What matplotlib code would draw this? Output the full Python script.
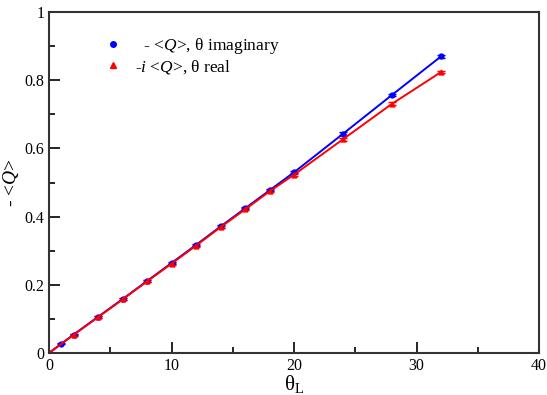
import matplotlib
matplotlib.use("Agg")
import matplotlib.pyplot as plt
from matplotlib.lines import Line2D
import numpy as np

plt.rcParams['font.family'] = 'Liberation Serif'
plt.rcParams['mathtext.fontset'] = 'custom'
plt.rcParams['mathtext.rm'] = 'Liberation Serif'
plt.rcParams['mathtext.it'] = 'Liberation Serif:italic'

# theta imaginary (blue)
theta_imag = [0, 1, 2, 4, 6, 8, 10, 12, 14, 16, 18, 20, 24, 28, 32]
q_imag = [0.0, 0.027, 0.054, 0.106, 0.158, 0.211, 0.264, 0.317, 0.371, 0.424, 0.477, 0.530, 0.643, 0.757, 0.870]
err_imag = [0.001, 0.002, 0.002, 0.002, 0.003, 0.003, 0.003, 0.003, 0.003, 0.003, 0.003, 0.003, 0.004, 0.004, 0.004]

# theta real (red)
theta_real = [0, 2, 4, 6, 8, 10, 12, 14, 16, 18, 20, 24, 28, 32]
q_real = [0.0, 0.053, 0.105, 0.157, 0.210, 0.262, 0.315, 0.369, 0.421, 0.474, 0.523, 0.627, 0.731, 0.824]
err_real = [0.001, 0.003, 0.003, 0.003, 0.003, 0.003, 0.003, 0.003, 0.003, 0.003, 0.003, 0.004, 0.004, 0.004]

labels = [r'  - <$Q$>, θ imaginary', r'-$i$ <$Q$>, θ real']

fig = plt.figure(figsize=(5.47, 3.95), dpi=100)
ax = fig.add_axes([0.0896, 0.1063, 0.896, 0.8633])

ax.errorbar(theta_imag, q_imag, yerr=err_imag, color='blue', marker='o', ms=3.5,
            lw=1.4, capsize=3, elinewidth=1)
ax.errorbar(theta_real, q_real, yerr=err_real, color='red', marker='^', ms=3.5,
            lw=1.4, capsize=3, elinewidth=1)

ax.set_xlim(0, 40)
ax.set_ylim(0, 1)
ax.set_xticks([0, 10, 20, 30, 40])
ax.set_xticks([5, 15, 25, 35], minor=True)
ax.set_yticks([0, 0.2, 0.4, 0.6, 0.8, 1])
ax.set_yticklabels(['0', '0.2', '0.4', '0.6', '0.8', '1'])
ax.set_yticks([0.1, 0.3, 0.5, 0.7, 0.9], minor=True)
ax.tick_params(which='both', direction='in', top=False, right=False, labelsize=11.5, width=1.2)
ax.tick_params(which='major', length=8)
ax.tick_params(which='minor', length=4)
for s in ax.spines.values():
    s.set_linewidth(1.5)
    s.set_color('#333333')

ax.set_xlabel(r'θ$_\mathrm{L}$', fontsize=15)
ax.xaxis.set_label_coords(0.5, -0.058)
ax.set_ylabel(r'- <$Q$>', fontsize=14)
ax.yaxis.set_label_coords(-0.058, 0.5)

handles = [Line2D([], [], color='blue', marker='o', ls='none', ms=4),
           Line2D([], [], color='red', marker='^', ls='none', ms=4)]
ax.legend(handles, labels, loc='upper left', bbox_to_anchor=(0.08, 0.975), frameon=False,
          fontsize=12.5, handlelength=1.0, handletextpad=0.8, labelspacing=0.1)

fig.savefig('out.png', dpi=100)
